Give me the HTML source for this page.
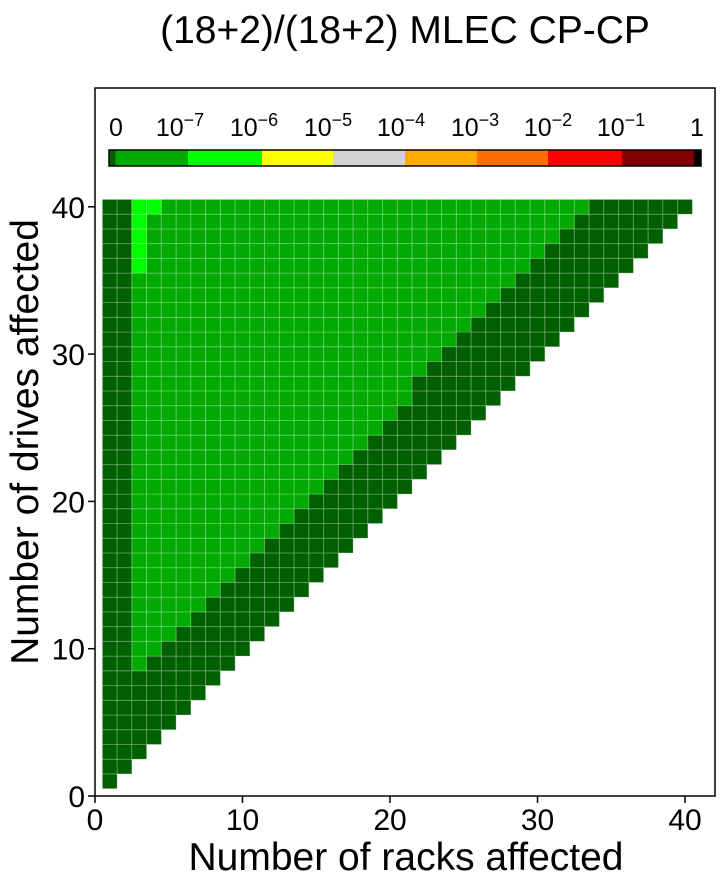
<!DOCTYPE html>
<html><head><meta charset="utf-8"><style>
body{margin:0;background:#fff;}
svg{display:block;font-family:"Liberation Sans",sans-serif;}
</style></head><body>
<svg id="chart" width="725" height="887" viewBox="0 0 725 887" xmlns="http://www.w3.org/2000/svg">
<text x="405" y="43" font-size="39" text-anchor="middle">(18+2)/(18+2) MLEC CP-CP</text>
<g id="cells"></g>
<g id="cbar"></g>
<rect x="95" y="88" width="620" height="708" fill="none" stroke="#000" stroke-width="1.5"/>
<g id="ticks"></g>
<text x="406" y="870" font-size="39" text-anchor="middle">Number of racks affected</text>
<text transform="translate(38,442) rotate(-90)" font-size="39" text-anchor="middle">Number of drives affected</text>
</svg>
<script>
const racks = [1,2,3,4,5,6,7,8,9,10,11,12,13,14,15,16,17,18,19,20,21,22,23,24,25,26,27,28,29,30,31,32,33,34,35,36,37,38,39,40];
const maxDrives = 40;
// first drive count with probability band 1e-8..1e-7 (0 = none)
const mediumStart = [0,0,9,10,11,12,13,14,15,16,17,18,19,20,21,22,23,24,25,26,27,29,30,31,32,33,34,35,36,37,38,39,40,0,0,0,0,0,0,0];
// cells in 1e-7..1e-6 band: [rack, drives]
const lightCells = [[3,36],[3,37],[3,38],[3,39],[3,40],[4,40]];
const xTicks = [0,10,20,30,40];
const yTicks = [0,10,20,30,40];
const cbarLabels = ["0","10","10","10","10","10","10","10","1"];
const cbarExps = ["","−7","−6","−5","−4","−3","−2","−1",""];

const NS="http://www.w3.org/2000/svg";
const X=v=>95+v*14.75, Y=v=>796-v*14.73;
const cells=document.getElementById('cells');
const cellKey=new Set(lightCells.map(c=>c[0]+','+c[1]));
racks.forEach((r,i)=>{
  for(let d=r; d<=maxDrives; d++){
    let col='#006000';
    if(cellKey.has(r+','+d)) col='#00ff00';
    else if(mediumStart[i]>0 && d>=mediumStart[i]) col='#00aa00';
    const el=document.createElementNS(NS,'rect');
    
    
    el.setAttribute('x',X(r-0.5));el.setAttribute('y',Y(d+0.5));
    el.setAttribute('width',14.75);el.setAttribute('height',14.73);
    el.setAttribute('fill',col);el.setAttribute('stroke','rgba(255,255,255,0.22)');el.setAttribute('stroke-width','1');
    cells.appendChild(el);
  }
});
// colorbar
const cb=document.getElementById('cbar');
const segs=[[109,115.5,'#006000'],[115.5,188,'#00aa00'],[188,262,'#00ff00'],[262,333,'#ffff00'],[333,405,'#d3d3d3'],[405,477,'#ffaa00'],[477,548,'#ff6f00'],[548,622,'#ff0000'],[622,694,'#800000'],[694,701,'#000']];
segs.forEach(s=>{const el=document.createElementNS(NS,'rect');


el.setAttribute('x',s[0]);el.setAttribute('y',150);el.setAttribute('width',s[1]-s[0]);el.setAttribute('height',16);el.setAttribute('fill',s[2]);cb.appendChild(el);});
const fr=document.createElementNS(NS,'rect');


fr.setAttribute('x',109);fr.setAttribute('y',150);fr.setAttribute('width',592);fr.setAttribute('height',16);fr.setAttribute('fill','none');fr.setAttribute('stroke','#000');fr.setAttribute('stroke-width','1.5');cb.appendChild(fr);
const lx=[116,190,264,338,411,485,558,631,697];
cbarLabels.forEach((t,i)=>{const el=document.createElementNS(NS,'text');


el.setAttribute('x',lx[i]-(cbarExps[i]?10:0));el.setAttribute('y',136);el.setAttribute('font-size','25');el.setAttribute('text-anchor','middle');
el.textContent=t;
if(cbarExps[i]){const ts=document.createElementNS(NS,'tspan');ts.setAttribute('dy','-10');ts.setAttribute('font-size','18');ts.textContent=cbarExps[i];el.appendChild(ts);}
cb.appendChild(el);});
// ticks
const tk=document.getElementById('ticks');
xTicks.forEach(v=>{const l=document.createElementNS(NS,'line');


l.setAttribute('x1',X(v));l.setAttribute('x2',X(v));l.setAttribute('y1',796);l.setAttribute('y2',803);l.setAttribute('stroke','#000');l.setAttribute('stroke-width','1.5');tk.appendChild(l);
const t=document.createElementNS(NS,'text');


t.setAttribute('x',X(v));t.setAttribute('y',830);t.setAttribute('font-size','30');t.setAttribute('text-anchor','middle');t.textContent=v;tk.appendChild(t);});
yTicks.forEach(v=>{const l=document.createElementNS(NS,'line');


l.setAttribute('x1',88);l.setAttribute('x2',95);l.setAttribute('y1',Y(v));l.setAttribute('y2',Y(v));l.setAttribute('stroke','#000');l.setAttribute('stroke-width','1.5');tk.appendChild(l);
const t=document.createElementNS(NS,'text');


t.setAttribute('x',85);t.setAttribute('y',Y(v)+11);t.setAttribute('font-size','30');t.setAttribute('text-anchor','end');t.textContent=v;tk.appendChild(t);});
</script>
</body></html>
